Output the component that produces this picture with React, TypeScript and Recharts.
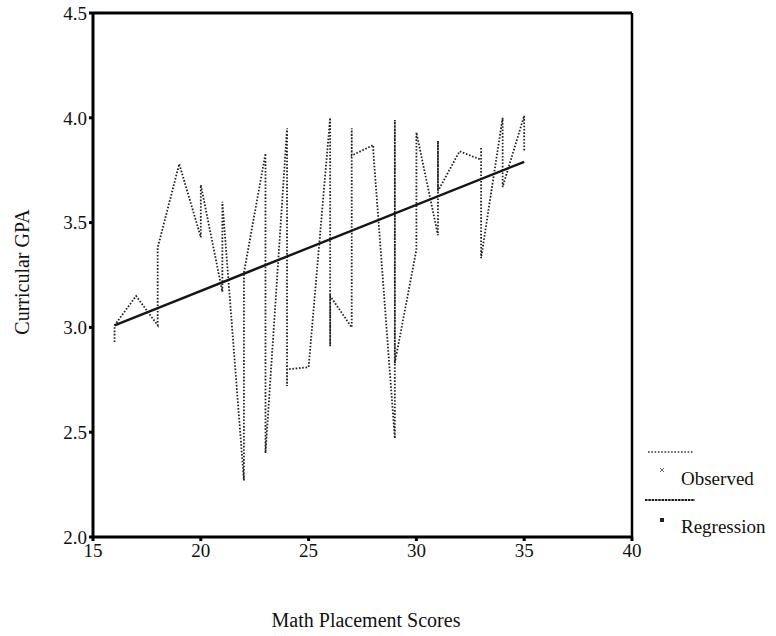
import React from 'react';
import { ComposedChart, Line, XAxis, YAxis, ReferenceLine } from 'recharts';

// Observed (Math Placement Score, Curricular GPA), in plotting order
const obsX = [16, 16, 17, 18, 18, 19, 20, 20, 21, 21, 22, 22, 23, 23, 24, 24, 24, 25, 26, 26, 26, 27, 27, 27, 28, 28, 29, 29, 29, 30, 30, 31, 31, 31, 32, 33, 33, 33, 34, 34, 35, 35];
const obsY = [2.93, 3.01, 3.15, 3.01, 3.38, 3.78, 3.43, 3.68, 3.17, 3.6, 2.27, 3.26, 3.83, 2.4, 3.95, 2.72, 2.8, 2.81, 4.0, 2.91, 3.15, 3.0, 3.95, 3.82, 3.87, 3.84, 2.47, 3.99, 2.83, 3.37, 3.93, 3.44, 3.89, 3.65, 3.84, 3.8, 3.86, 3.33, 4.0, 3.67, 4.01, 3.84];

// Regression line end points
const regX = [16, 35];
const regY = [3.01, 3.79];

const xTicks = [15, 20, 25, 30, 35, 40];
const yTicks = [2.0, 2.5, 3.0, 3.5, 4.0, 4.5];

const xTitle = 'Math Placement Scores';
const yTitle = 'Curricular GPA';
const legendLabels = ['Observed', 'Regression'];

const observed = obsX.map((x, i) => ({ x, y: obsY[i] }));
const regression = regX.map((x, i) => ({ x, y: regY[i] }));

const FONT = "'Liberation Serif', 'Times New Roman', serif";
const tickStyle = { fill: '#111', fontSize: 19, fontFamily: FONT };

export default function App() {
  return (
    <div style={{ position: 'absolute', left: 0, top: 0, width: 776, height: 636, background: '#fff' }}>
      <ComposedChart
        width={776}
        height={636}
        margin={{ top: 13, right: 144, bottom: 69, left: 0 }}
      >
        <XAxis
          type="number"
          dataKey="x"
          domain={[15, 40]}
          ticks={xTicks}
          allowDataOverflow
          height={30}
          axisLine={{ stroke: '#000', strokeWidth: 3 }}
          tickLine={{ stroke: '#000', strokeWidth: 3 }}
          tickSize={4}
          tickMargin={3}
          tick={tickStyle}
        />
        <YAxis
          type="number"
          dataKey="y"
          domain={[2, 4.5]}
          ticks={yTicks}
          allowDataOverflow
          width={93}
          axisLine={{ stroke: '#000', strokeWidth: 3 }}
          tickLine={{ stroke: '#000', strokeWidth: 3 }}
          tickSize={4}
          tickMargin={2}
          tick={tickStyle}
          tickFormatter={(v: number) => v.toFixed(1)}
        />
        <ReferenceLine y={4.5} stroke="#000" strokeWidth={3} />
        <ReferenceLine x={40} stroke="#000" strokeWidth={2.5} />
        <Line
          data={observed}
          dataKey="y"
          type="linear"
          stroke="#222"
          strokeWidth={1.8}
          strokeDasharray="1.6 1.7"
          dot={false}
          activeDot={false}
          isAnimationActive={false}
        />
        <Line
          data={regression}
          dataKey="y"
          type="linear"
          stroke="#151515"
          strokeWidth={2.4}
          dot={false}
          activeDot={false}
          isAnimationActive={false}
        />
      </ComposedChart>
      <svg
        width={776}
        height={636}
        style={{ position: 'absolute', left: 0, top: 0, pointerEvents: 'none' }}
      >
        <text
          x={22}
          y={272}
          transform="rotate(-90 22 272)"
          textAnchor="middle"
          dominantBaseline="central"
          fontFamily={FONT}
          fontSize={20}
          fill="#111"
        >
          {yTitle}
        </text>
        <text
          x={366}
          y={620}
          textAnchor="middle"
          dominantBaseline="central"
          fontFamily={FONT}
          fontSize={20}
          fill="#111"
        >
          {xTitle}
        </text>
        {/* legend */}
        <line x1={648} y1={452} x2={693} y2={452} stroke="#333" strokeWidth={1.6} strokeDasharray="1.6 1.7" />
        <g stroke="#666" strokeWidth={1}>
          <line x1={660} y1={468} x2={664} y2={472} />
          <line x1={664} y1={468} x2={660} y2={472} />
        </g>
        <text x={681} y={478} dominantBaseline="central" fontFamily={FONT} fontSize={19} fill="#111">
          {legendLabels[0]}
        </text>
        <line x1={645} y1={500} x2={695} y2={500} stroke="#1a1a1a" strokeWidth={2} strokeDasharray="2.5 0.8" />
        <rect x={660} y={518} width={4} height={4} fill="#222" />
        <text x={681} y={526} dominantBaseline="central" fontFamily={FONT} fontSize={19} fill="#111">
          {legendLabels[1]}
        </text>
      </svg>
    </div>
  );
}
